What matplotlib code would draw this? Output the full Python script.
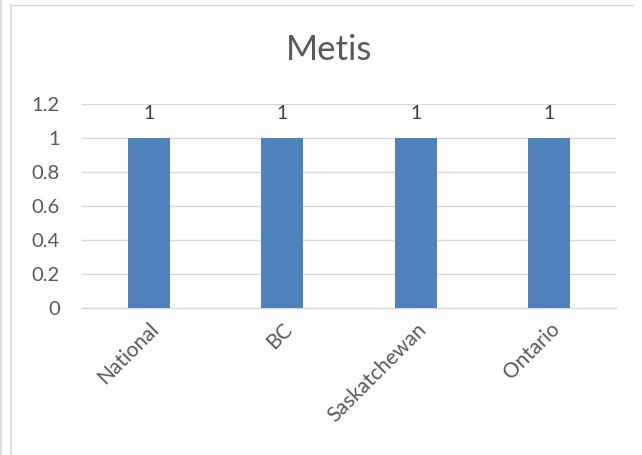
import matplotlib

matplotlib.use("Agg")
import matplotlib.pyplot as plt
from matplotlib.lines import Line2D

categories = ["National", "BC", "Saskatchewan", "Ontario"]
values = [1, 1, 1, 1]
y_ticks = [0, 0.2, 0.4, 0.6, 0.8, 1, 1.2]
y_tick_labels = ["0", "0.2", "0.4", "0.6", "0.8", "1", "1.2"]

BAR_COLOR = "#4F81BD"
TEXT_COLOR = "#595959"
GRID_COLOR = "#D9D9D9"

plt.rcParams["font.family"] = ["Lato", "DejaVu Sans"]

fig = plt.figure(figsize=(6.42, 4.55), dpi=100)
ax = fig.add_axes([0.1277, 0.3231, 0.8318, 0.4483])

x = range(len(categories))
ax.bar(x, values, width=0.315, color=BAR_COLOR, zorder=3)
for xi, v in zip(x, values):
    ax.annotate(f"{v:g}", (xi, v), xytext=(0, 18), textcoords="offset points",
                ha="center", va="center", fontsize=14, color="#404040")

ax.set_xlim(-0.5, len(categories) - 0.5)
ax.set_ylim(0, 1.2)
ax.set_yticks(y_ticks)
ax.set_yticklabels(y_tick_labels)
ax.set_xticks(list(x))
ax.set_xticklabels(categories, rotation=45, ha="right", rotation_mode="anchor")

ax.grid(axis="y", color=GRID_COLOR, linewidth=1, zorder=0)
for side in ("top", "right", "left"):
    ax.spines[side].set_visible(False)
ax.spines["bottom"].set_color(GRID_COLOR)
ax.spines["bottom"].set_linewidth(1)
ax.tick_params(axis="both", length=0, labelcolor=TEXT_COLOR)
ax.tick_params(axis="y", pad=16, labelsize=14.5)
ax.tick_params(axis="x", pad=8, labelsize=15)

fig.text(0.512, 1 - 50 / 455, "Metis", ha="center", va="center", fontsize=25, color=TEXT_COLOR)

# chart frame bits
fig.add_artist(Line2D([11 / 642, 633 / 642], [1 - 5 / 455] * 2, color=GRID_COLOR, lw=1))
fig.add_artist(Line2D([11.5 / 642] * 2, [0, 1 - 5 / 455], color=GRID_COLOR, lw=1.2))
fig.add_artist(Line2D([1.5 / 642] * 2, [0, 1], color=GRID_COLOR, lw=1.2))

fig.savefig("out.png", dpi=100)
